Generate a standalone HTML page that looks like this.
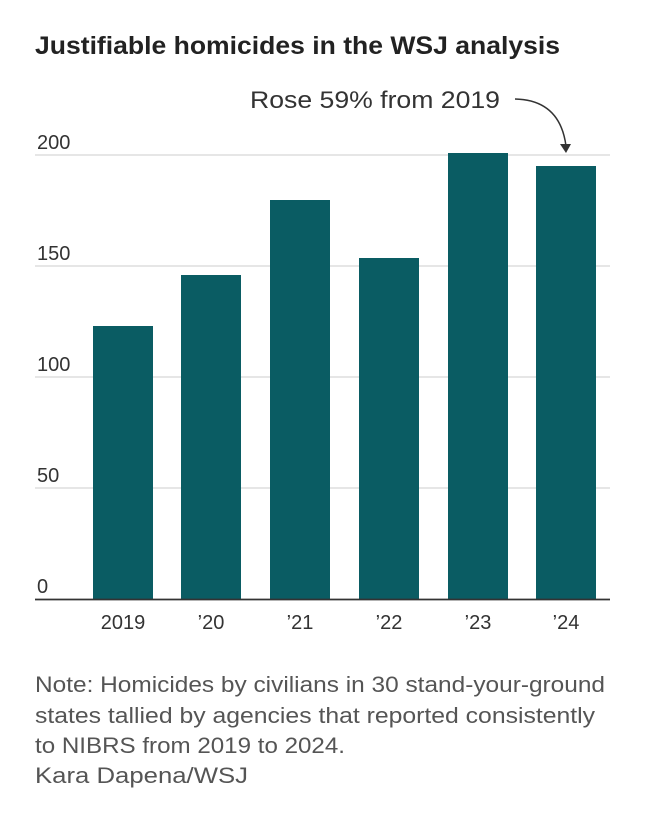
<!DOCTYPE html>
<html><head><meta charset="utf-8"><style>
body{margin:0;background:#fff;}
svg{display:block;font-family:"Liberation Sans",sans-serif;}
</style></head><body>
<svg width="650" height="814" viewBox="0 0 650 814">
<text x="35" y="54" font-size="25" font-weight="bold" fill="#222" textLength="525" lengthAdjust="spacingAndGlyphs">Justifiable homicides in the WSJ analysis</text>
<g stroke="#ddd" stroke-width="1.5">
<line x1="35" y1="155" x2="610" y2="155"/>
<line x1="35" y1="266" x2="610" y2="266"/>
<line x1="35" y1="377" x2="610" y2="377"/>
<line x1="35" y1="488" x2="610" y2="488"/>
</g>
<g font-size="20" fill="#333">
<text x="37" y="149">200</text>
<text x="37" y="260">150</text>
<text x="37" y="371">100</text>
<text x="37" y="482">50</text>
<text x="37" y="593">0</text>
</g>
<g fill="#0a5c63">
<rect x="93" y="326" width="60" height="273"/>
<rect x="181" y="275" width="60" height="324"/>
<rect x="270" y="200" width="60" height="399"/>
<rect x="359" y="258" width="60" height="341"/>
<rect x="448" y="153" width="60" height="446"/>
<rect x="536" y="166" width="60" height="433"/>
</g>
<line x1="35" y1="599.5" x2="610" y2="599.5" stroke="#333" stroke-width="1.8"/>
<g font-size="20" fill="#333" text-anchor="middle">
<text x="123" y="629">2019</text>
<text x="211" y="629">’20</text>
<text x="300" y="629">’21</text>
<text x="389" y="629">’22</text>
<text x="478" y="629">’23</text>
<text x="566" y="629">’24</text>
</g>
<text x="250" y="108" font-size="24" fill="#333" textLength="250" lengthAdjust="spacingAndGlyphs">Rose 59% from 2019</text>
<path d="M515 99 Q560 100 566 146" fill="none" stroke="#333" stroke-width="1.5"/>
<path d="M560 144 L566 153 L571 144 Z" fill="#333"/>
<g font-size="22" fill="#555" lengthAdjust="spacingAndGlyphs">
<text x="35" y="692" textLength="570" lengthAdjust="spacingAndGlyphs">Note: Homicides by civilians in 30 stand-your-ground</text>
<text x="35" y="723" textLength="560" lengthAdjust="spacingAndGlyphs">states tallied by agencies that reported consistently</text>
<text x="35" y="753" textLength="310" lengthAdjust="spacingAndGlyphs">to NIBRS from 2019 to 2024.</text>
<text x="35" y="783" textLength="213" lengthAdjust="spacingAndGlyphs">Kara Dapena/WSJ</text>
</g>
</svg>
</body></html>
